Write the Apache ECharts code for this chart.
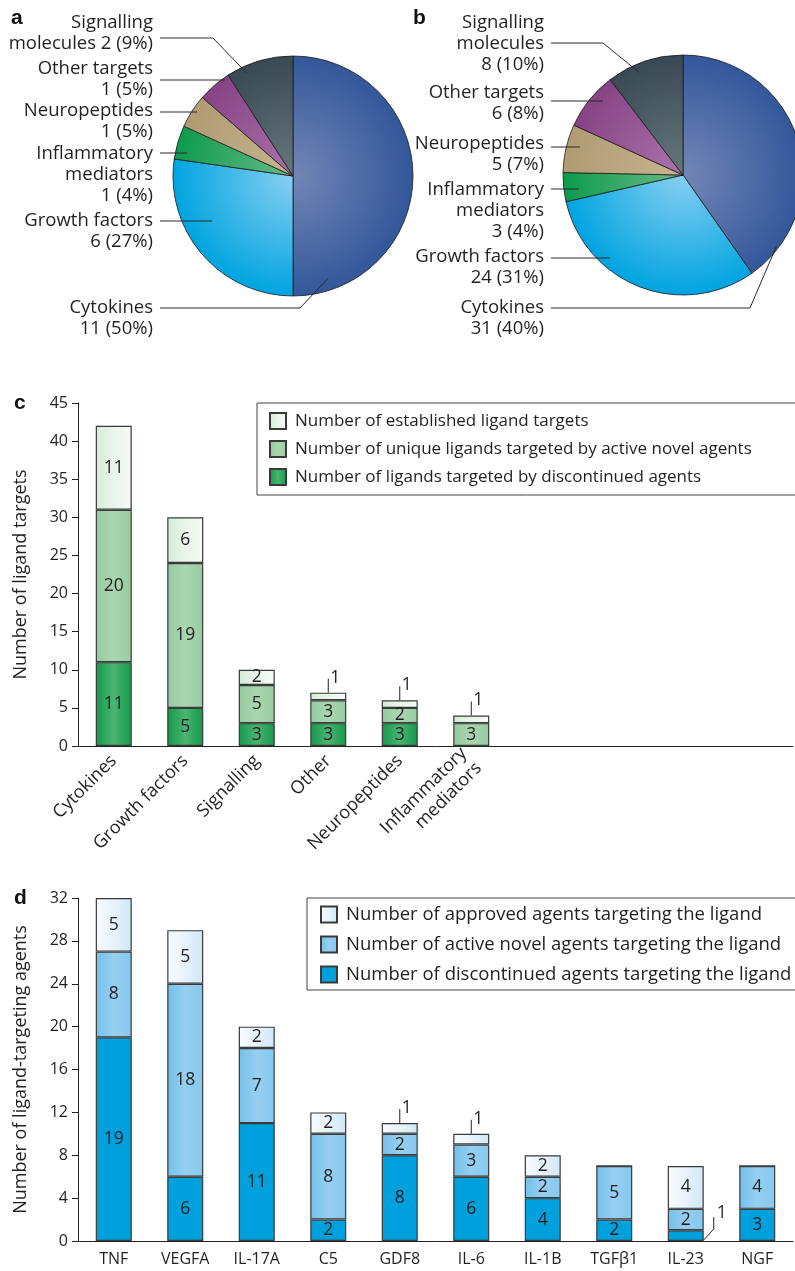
<!DOCTYPE html>
<html>
<head>
<meta charset="utf-8">
<script src="https://cdn.jsdelivr.net/npm/echarts@6/dist/echarts.min.js"></script>
<style>
  html, body { margin: 0; padding: 0; background: #ffffff; }
  #chart { width: 795px; height: 1271px; }
</style>
</head>
<body>
<div id="chart"></div>
<script>
// ---- Ligand classes (pies a and b) ----
const pieCategories = ['Cytokines', 'Growth factors', 'Inflammatory mediators', 'Neuropeptides', 'Other targets', 'Signalling molecules'];
const pieLabelNames = ['Cytokines', 'Growth factors', 'Inflammatory\nmediators', 'Neuropeptides', 'Other targets', 'Signalling\nmolecules'];
const establishedCounts = [11, 6, 1, 1, 1, 2];
const establishedPercents = [50, 27, 4, 5, 5, 9];
const pipelineCounts = [31, 24, 3, 5, 6, 8];
const pipelinePercents = [40, 31, 4, 7, 8, 10];

// ---- Ligand targets by class (panel c) ----
const classCategories = ['Cytokines', 'Growth factors', 'Signalling', 'Other', 'Neuropeptides', 'Inflammatory\nmediators'];
const classDiscontinued = [11, 5, 3, 3, 3, 0];
const classActiveNovel = [20, 19, 5, 3, 2, 3];
const classEstablished = [11, 6, 2, 1, 1, 1];
const classSeriesNames = [
  'Number of ligands targeted by discontinued agents',
  'Number of unique ligands targeted by active novel agents',
  'Number of established ligand targets'
];
const classTicks = [0, 5, 10, 15, 20, 25, 30, 35, 40, 45];

// ---- Agents per ligand (panel d) ----
const ligandCategories = ['TNF', 'VEGFA', 'IL-17A', 'C5', 'GDF8', 'IL-6', 'IL-1B', 'TGFβ1', 'IL-23', 'NGF'];
const agentsDiscontinued = [19, 6, 11, 2, 8, 6, 4, 2, 1, 3];
const agentsActiveNovel = [8, 18, 7, 8, 2, 3, 2, 5, 2, 4];
const agentsApproved = [5, 5, 2, 2, 1, 1, 2, 0, 4, 0];
const agentSeriesNames = [
  'Number of discontinued agents targeting the ligand',
  'Number of active novel agents targeting the ligand',
  'Number of approved agents targeting the ligand'
];
const agentTicks = [0, 4, 8, 12, 16, 20, 24, 28, 32];

// ---- styling ----
const FONT = '"Open Sans", "Noto Sans", sans-serif';
const INK = '#231f20';
const EDGE = '#3a3a3a';
const BAR_W = 36;
const SLOTS = 10;

const pieColors = [
  ['#7486b6', '#33579a'],
  ['#88cff2', '#00a4df'],
  ['#68ba86', '#0d9b4e'],
  ['#c6b591', '#b09b72'],
  ['#aa74aa', '#874385'],
  ['#68787f', '#394954']
];

// pie placement and label layout (label rows, leader geometry)
const pieLayouts = [
  {
    cx: 293, cy: 176, r: 120, textRight: 153, lineStart: 160, inlineValue: [false, false, false, false, false, true],
    labels: [
      { top: 297.5, lineY: 308, frac: 0.894, rf: 0.9, elbow: 300 },
      { top: 210.5, lineY: 221, frac: 0.62 },
      { top: 143.5, lineY: 153, frac: 0.25 },
      { top: 100.5, lineY: 112, frac: 0.56 },
      { top: 58.5, lineY: 80, frac: 0.84 },
      { top: 12.5, lineY: 38, frac: 0.26, rf: 0.94, elbow: 213 }
    ]
  },
  {
    cx: 683, cy: 175, r: 120, textRight: 544, lineStart: 551, inlineValue: [false, false, false, false, false, false],
    labels: [
      { top: 297.5, lineY: 308, frac: 0.88, rf: 0.98, elbow: 750 },
      { top: 246.5, lineY: 258, frac: 0.68 },
      { top: 179.5, lineY: 189, frac: 0.37 },
      { top: 133.5, lineY: 147, frac: 0.60 },
      { top: 82.5, lineY: 101, frac: 0.65 },
      { top: 12.5, lineY: 43, frac: 0.38, rf: 0.93, elbow: 603 }
    ]
  }
];

function radial(L, i) {
  return new echarts.graphic.RadialGradient(L.cx, L.cy, L.r, [
    { offset: 0, color: pieColors[i][0] },
    { offset: 1, color: pieColors[i][1] }
  ], true);
}

// angle (clockwise from 12 o'clock) at a fraction through slice idx
function sliceAngle(values, idx, frac) {
  const total = values.reduce((a, b) => a + b, 0);
  let start = 0;
  for (let k = 0; k < idx; k++) start += values[k];
  return (start + frac * values[idx]) / total * Math.PI * 2;
}

function pieSeries(values, L) {
  return {
    type: 'pie',
    center: [L.cx, L.cy],
    radius: L.r,
    startAngle: 90,
    clockwise: true,
    silent: true,
    label: { show: false },
    labelLine: { show: false },
    itemStyle: { borderColor: '#1b1b1b', borderWidth: 0.8 },
    data: pieCategories.map((n, i) => ({ name: n, value: values[i], itemStyle: { color: radial(L, i) } }))
  };
}

function pieAnnotations(values, percents, L) {
  const els = [];
  L.labels.forEach((lab, i) => {
    const sep = L.inlineValue[i] ? ' ' : '\n';
    const text = pieLabelNames[i] + sep + values[i] + ' (' + percents[i] + '%)';
    els.push({
      type: 'text', silent: true,
      style: {
        text: text, x: L.textRight, y: lab.top,
        textAlign: 'right', textVerticalAlign: 'top', align: 'right', verticalAlign: 'top',
        font: '18.5px ' + FONT, lineHeight: 21, fill: INK
      }
    });
    const th = sliceAngle(values, i, lab.frac);
    let pts;
    if (lab.elbow !== undefined) {
      const rr = L.r * lab.rf;
      const ax = L.cx + rr * Math.sin(th), ay = L.cy - rr * Math.cos(th);
      pts = [[L.lineStart, lab.lineY], [lab.elbow, lab.lineY], [ax, ay]];
    } else {
      const t = (L.cy - lab.lineY) / Math.cos(th);
      pts = [[L.lineStart, lab.lineY], [L.cx + t * Math.sin(th), lab.lineY]];
    }
    els.push({
      type: 'polyline', silent: true, z: 10,
      shape: { points: pts },
      style: { stroke: '#2b2b2b', lineWidth: 1, fill: null }
    });
  });
  return els;
}

function hGrad(stops) {
  return new echarts.graphic.LinearGradient(0, 0, 1, 0, stops.map((c, k) => ({ offset: k / (stops.length - 1), color: c })));
}

const greenDark = hGrad(['#12994b', '#4bb472', '#12994b']);
const greenMid = hGrad(['#96caa0', '#a9d6b0', '#98cba1']);
const greenLight = hGrad(['#d6ebd8', '#eaf5eb', '#f6fbf6']);
const blueDark = '#00a0dc';
const blueMid = hGrad(['#74bfe9', '#96cff0', '#86c8ee']);
const blueLight = hGrad(['#f8fbfe', '#e8f3fb', '#cfe7f7']);

function pad(arr) {
  const out = arr.slice();
  while (out.length < SLOTS) out.push('');
  return out;
}

function segLabel(size) {
  return {
    show: true, position: 'inside', color: INK, fontSize: size, fontFamily: FONT,
    formatter: p => (p.value >= 2 ? String(p.value) : '')
  };
}

function barSeries(name, data, color, axis, size) {
  return {
    name: name, type: 'bar', stack: 'stack' + axis, xAxisIndex: axis, yAxisIndex: axis,
    barWidth: BAR_W, data: data, silent: true,
    itemStyle: { color: color, borderColor: EDGE, borderWidth: 1.2 },
    label: segLabel(size)
  };
}

// single-unit segments get an outside callout with a leader line
function calloutData(stacks) {
  const out = [];
  const n = stacks[0].length;
  for (let i = 0; i < n; i++) {
    const total = stacks.reduce((s, a) => s + a[i], 0);
    let base = 0;
    stacks.forEach(arr => {
      const v = arr[i];
      if (v === 1) out.push([i, base, base + v, base + v === total ? 0 : 1, v]);
      base += v;
    });
  }
  return out;
}

function calloutSeries(stacks, axis) {
  return {
    type: 'custom', xAxisIndex: axis, yAxisIndex: axis, silent: true, z: 5,
    data: calloutData(stacks),
    renderItem: function (params, api) {
      const i = api.value(0), y0 = api.value(1), y1 = api.value(2), kind = api.value(3), v = api.value(4);
      const font = '17.5px ' + FONT;
      if (kind === 0) {
        const p = api.coord([i, y1]);
        const x = p[0], yt = p[1] - 14;
        return {
          type: 'group', children: [
            { type: 'line', shape: { x1: x, y1: p[1], x2: x, y2: yt }, style: { stroke: '#222', lineWidth: 1 } },
            { type: 'text', style: { text: String(v), x: x + 2, y: yt - 1, textAlign: 'left', textVerticalAlign: 'middle', align: 'left', verticalAlign: 'middle', font: font, fill: INK } }
          ]
        };
      }
      const p = api.coord([i, y0]);
      const x = p[0] + BAR_W / 2, y = p[1] - 1;
      return {
        type: 'group', children: [
          { type: 'polyline', shape: { points: [[x, y], [x + 10, y - 11], [x + 10, y - 23]] }, style: { stroke: '#222', lineWidth: 1, fill: null } },
          { type: 'text', style: { text: String(v), x: x + 13, y: y - 27, textAlign: 'left', textVerticalAlign: 'middle', align: 'left', verticalAlign: 'middle', font: font, fill: INK } }
        ]
      };
    }
  };
}

function yAxisCfg(grid, ticks, name) {
  return {
    gridIndex: grid, type: 'value', min: ticks[0], max: ticks[ticks.length - 1], interval: ticks[1] - ticks[0],
    axisLine: { show: true, lineStyle: { color: '#222', width: 1 } },
    axisTick: { show: true, length: 6, lineStyle: { color: '#222' } },
    splitLine: { show: false },
    axisLabel: { fontSize: 16, fontFamily: FONT, color: INK, margin: 10 },
    name: name, nameLocation: 'middle', nameGap: 48, nameRotate: 90,
    nameTextStyle: { fontSize: 18, fontFamily: FONT, color: INK }
  };
}

function panelLetter(ch, x, y) {
  return {
    type: 'text', silent: true,
    style: { text: ch, x: x, y: y, textAlign: 'left', textVerticalAlign: 'middle', align: 'left', verticalAlign: 'middle', font: 'bold 21px "Liberation Sans", Arial, sans-serif', fill: '#111' }
  };
}

const classStacks = [classDiscontinued, classActiveNovel, classEstablished];
const agentStacks = [agentsDiscontinued, agentsActiveNovel, agentsApproved];

const option = {
  animation: false,
  backgroundColor: '#ffffff',
  textStyle: { fontFamily: FONT },
  grid: [
    { left: 78, top: 403, width: 715, height: 343 },
    { left: 78, top: 898, width: 715, height: 343 }
  ],
  xAxis: [
    {
      gridIndex: 0, type: 'category', data: pad(classCategories),
      axisLine: { lineStyle: { color: '#222', width: 1 } },
      axisTick: { alignWithLabel: true, length: 6, interval: (i, v) => v !== '', lineStyle: { color: '#222' } },
      axisLabel: { interval: 0, rotate: 45, fontSize: 18, fontFamily: FONT, color: INK, margin: 12, lineHeight: 21 }
    },
    {
      gridIndex: 1, type: 'category', data: ligandCategories,
      axisLine: { lineStyle: { color: '#222', width: 1 } },
      axisTick: { alignWithLabel: true, length: 6, lineStyle: { color: '#222' } },
      axisLabel: { interval: 0, fontSize: 16, fontFamily: FONT, color: INK, margin: 10 }
    }
  ],
  yAxis: [
    yAxisCfg(0, classTicks, 'Number of ligand targets'),
    yAxisCfg(1, agentTicks, 'Number of ligand-targeting agents')
  ],
  legend: [
    {
      data: classSeriesNames.slice().reverse(), orient: 'vertical', left: 257, top: 403,
      itemWidth: 16, itemHeight: 16, itemGap: 10, padding: [9, 60, 9, 12], icon: 'rect',
      borderColor: '#444', borderWidth: 1, selectedMode: false,
      textStyle: { fontSize: 17, fontFamily: FONT, color: INK, padding: [0, 0, 0, 4] }
    },
    {
      data: agentSeriesNames.slice().reverse(), orient: 'vertical', left: 307, top: 898,
      itemWidth: 16, itemHeight: 16, itemGap: 11, padding: [7, 10, 6, 13], icon: 'rect',
      borderColor: '#444', borderWidth: 1, selectedMode: false,
      textStyle: { fontSize: 18.5, fontFamily: FONT, color: INK, padding: [0, 0, 0, 4] }
    }
  ],
  series: [
    pieSeries(establishedCounts, pieLayouts[0]),
    pieSeries(pipelineCounts, pieLayouts[1]),
    barSeries(classSeriesNames[0], classDiscontinued, greenDark, 0, 17.5),
    barSeries(classSeriesNames[1], classActiveNovel, greenMid, 0, 17.5),
    barSeries(classSeriesNames[2], classEstablished, greenLight, 0, 17.5),
    calloutSeries(classStacks, 0),
    barSeries(agentSeriesNames[0], agentsDiscontinued, blueDark, 1, 17.5),
    barSeries(agentSeriesNames[1], agentsActiveNovel, blueMid, 1, 17.5),
    barSeries(agentSeriesNames[2], agentsApproved, blueLight, 1, 17.5),
    calloutSeries(agentStacks, 1)
  ],
  graphic: {
    elements: [
      panelLetter('a', 11, 18),
      panelLetter('b', 413, 18),
      panelLetter('c', 14, 403),
      panelLetter('d', 14, 898)
    ]
      .concat(pieAnnotations(establishedCounts, establishedPercents, pieLayouts[0]))
      .concat(pieAnnotations(pipelineCounts, pipelinePercents, pieLayouts[1]))
  }
};

const chart = echarts.init(document.getElementById('chart'), null, { renderer: 'canvas', width: 795, height: 1271 });
chart.setOption(option);
</script>
</body>
</html>
